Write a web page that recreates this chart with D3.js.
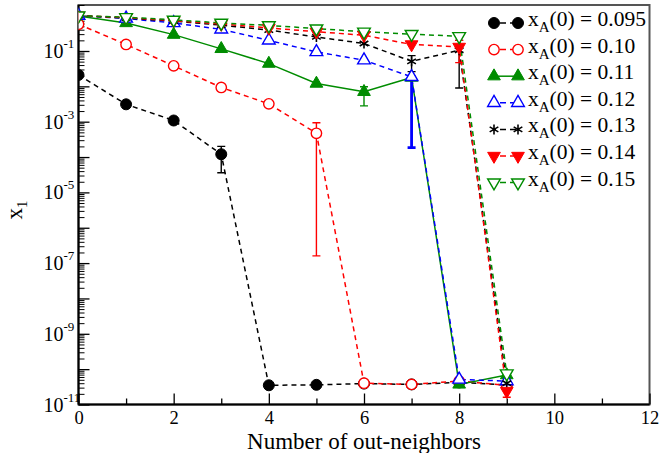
<!DOCTYPE html>
<html><head><meta charset="utf-8">
<script src="https://cdn.jsdelivr.net/npm/d3@7"></script>
<style>
body{margin:0;background:#fff;}
</style></head>
<body>
<svg id="chart" width="660" height="453"></svg>
<script>
// ---- data ----
const xValues = [0,1,2,3,4,5,6,7,8,9];
const seriesLabels = ["0.095","0.10","0.11","0.12","0.13","0.14","0.15"];
const s095 = [0.021, 0.0031, 0.00108, 1.2e-4, 3.5e-11, 3.6e-11, 3.9e-11, 3.7e-11, 4.2e-11, 3.6e-11];
const s010 = [0.57, 0.153, 0.038, 0.0093, 0.0032, 4.7e-4, 4.0e-11, 3.7e-11, 4.6e-11, 3.5e-11];
const s011 = [0.97, 0.62, 0.29, 0.115, 0.044, 0.012, 0.007, 0.0178, 3.7e-11, 6.8e-11];
const s012 = [1.0, 0.83, 0.62, 0.41, 0.20, 0.094, 0.055, 0.0185, 5.1e-11, 4.6e-11];
const s013 = [1.0, 0.85, 0.70, 0.54, 0.39, 0.25, 0.163, 0.051, 0.105, 4.0e-11];
const s014 = [1.0, 0.88, 0.72, 0.58, 0.45, 0.35, 0.28, 0.153, 0.13, 2.4e-11];
const s015 = [1.0, 0.90, 0.76, 0.62, 0.53, 0.43, 0.35, 0.30, 0.26, 7.5e-11];
// error bars: [x, low, high]
const e095 = [[3, 3.6e-5, 2.0e-4]];
const e010 = [[5, 1.6e-7, 9.3e-4]];
const e011 = [[6, 0.0028, 0.0097]];
const e012 = [[7, 1.85e-4, 0.0185]];
const e013 = [[7, 0.026, 0.074],[8, 0.009, 0.2]];
const e014 = [[8, 0.047, 0.2],[9, 1.6e-11, 3.2e-11]];
const e015 = [];
const xTickLabels = ["0","2","4","6","8","10","12"];
const yLabelExponents = [-11,-9,-7,-5,-3,-1];

const FONT = "Liberation Serif";

const allSeries = [
  {v:s095, e:e095, color:"#000000", sym:d3.symbolCircle, fill:true, dash:"5,4", size:95},
  {v:s010, e:e010, color:"#ff0000", sym:d3.symbolCircle, fill:false, dash:"5,4", size:85},
  {v:s011, e:e011, color:"#008c00", sym:d3.symbolTriangle, fill:true, dash:null, size:70},
  {v:s012, e:e012, color:"#0000ff", sym:d3.symbolTriangle, fill:false, dash:"5,4", size:70, ew:2.8},
  {v:s013, e:e013, color:"#000000", sym:d3.symbolAsterisk, fill:false, dash:"5,4", size:70},
  {v:s014, e:e014, color:"#ff0000", sym:d3.symbolTriangle, fill:true, dash:"5,4", size:70, rot:180},
  {v:s015, e:e015, color:"#008c00", sym:d3.symbolTriangle, fill:false, dash:"5,4", size:70, rot:180},
];

// ---- layout ----
const svg = d3.select("#chart").attr("font-family",FONT);
const L = 78.5, R = 649.5, T = 5, B = 404.5;
const x = d3.scaleLinear().domain([0,12]).range([L,R]);
const y = d3.scaleLog().domain([1e-11, 2]).range([B,T]);

// frame
svg.append("rect").attr("x",L).attr("y",T).attr("width",R-L).attr("height",B-T)
  .attr("fill","none").attr("stroke","#555").attr("stroke-width",2);
svg.append("line").attr("x1",L).attr("x2",R).attr("y1",B).attr("y2",B).attr("stroke","#000").attr("stroke-width",2);
svg.append("line").attr("x1",L).attr("x2",L).attr("y1",T).attr("y2",B).attr("stroke","#000").attr("stroke-width",2);

// x axis (ticks inward)
const xAxis = d3.axisTop(x).tickValues(d3.range(0,13,2)).tickSize(11).tickFormat((d,i)=>xTickLabels[i]);
const gx = svg.append("g").attr("transform",`translate(0,${B})`).call(xAxis).attr("font-family",FONT);
gx.select(".domain").remove();
gx.selectAll(".tick line").attr("stroke","#000").attr("stroke-width",1.3);
gx.selectAll(".tick text").attr("y",19.5).attr("dy","0").attr("font-size",18.5).attr("fill","#000")
  .attr("font-family",FONT);
const xMinor = d3.axisTop(x).tickValues(d3.range(1,12,2)).tickSize(6).tickFormat("");
const gxm = svg.append("g").attr("transform",`translate(0,${B})`).call(xMinor);
gxm.select(".domain").remove();
gxm.selectAll(".tick line").attr("stroke","#000").attr("stroke-width",1.3);

// y axis ticks
const majors = d3.range(-11,1).map(e=>Math.pow(10,e));
const minors = [];
for (let e=-11;e<=0;e++) for (let m=2;m<=9;m++){ const v=m*Math.pow(10,e); if(v<=2) minors.push(v);}
const yAxis = d3.axisRight(y).tickValues(majors).tickSize(11).tickFormat("");
const gy = svg.append("g").attr("transform",`translate(${L},0)`).call(yAxis);
gy.select(".domain").remove();
gy.selectAll(".tick line").attr("stroke","#000").attr("stroke-width",1.3);
const yMinor = d3.axisRight(y).tickValues(minors).tickSize(6).tickFormat("");
const gym = svg.append("g").attr("transform",`translate(${L},0)`).call(yMinor);
gym.select(".domain").remove();
gym.selectAll(".tick line").attr("stroke","#000").attr("stroke-width",1);

// y labels
yLabelExponents.forEach(ex=>{
  svg.append("text").attr("x",63.5).attr("y",y(Math.pow(10,ex))+7)
    .attr("text-anchor","end").attr("font-size",20).attr("fill","#000").attr("font-family",FONT).text("10");
  svg.append("text").attr("x",63.5).attr("y",y(Math.pow(10,ex))-3)
    .attr("font-size",13).attr("fill","#000").attr("font-family",FONT).text(String(ex));
});

// axis titles
svg.append("text").attr("x",364).attr("y",449).attr("text-anchor","middle")
  .attr("font-size",23).attr("fill","#000").attr("font-family",FONT).text("Number of out-neighbors");
const yt = svg.append("text").attr("transform","translate(22,210) rotate(-90)")
  .attr("text-anchor","middle").attr("font-size",23).attr("fill","#000").attr("font-family",FONT);
yt.append("tspan").text("x");
yt.append("tspan").attr("font-size",15).attr("dy",5).text("1");

// clip
svg.append("clipPath").attr("id","clip").append("rect").attr("x",L).attr("y",T).attr("width",R-L).attr("height",B-T);
const plot = svg.append("g").attr("clip-path","url(#clip)");

const line = d3.line().x((d,i)=>x(xValues[i])).y(d=>y(d));

// lines
allSeries.forEach(s=>{
  plot.append("path").attr("d",line(s.v)).attr("fill","none")
    .attr("stroke",s.color).attr("stroke-width",1.5)
    .attr("stroke-dasharray",s.dash);
});
// error bars
allSeries.forEach(s=>{
  s.e.forEach(([xi,lo,hi])=>{
    const g = plot.append("g").attr("stroke",s.color).attr("stroke-width",s.ew||1.4);
    g.append("line").attr("x1",x(xi)).attr("x2",x(xi)).attr("y1",y(lo)).attr("y2",y(hi));
    [lo,hi].forEach(v=>g.append("line").attr("x1",x(xi)-4).attr("x2",x(xi)+4).attr("y1",y(v)).attr("y2",y(v)));
  });
});
// markers
function marker(g,s,cx,cy){
  const p = g.append("path").attr("d",d3.symbol().type(s.sym).size(s.size)())
    .attr("transform",`translate(${cx},${cy})${s.rot?` rotate(${s.rot})`:""}`);
  if (s.sym===d3.symbolAsterisk) p.attr("fill","none").attr("stroke",s.color).attr("stroke-width",1.6);
  else if (s.fill) p.attr("fill",s.color).attr("stroke",s.color).attr("stroke-width",1);
  else p.attr("fill","#fff").attr("stroke",s.color).attr("stroke-width",1.4);
}
allSeries.forEach(s=>{
  s.v.forEach((v,i)=>marker(plot,s,x(xValues[i]),y(v)));
});

// legend
allSeries.forEach((s,i)=>{
  const cy = 23 + i*26.6;
  const g = svg.append("g");
  g.append("line").attr("x1",494).attr("x2",518).attr("y1",cy).attr("y2",cy)
    .attr("stroke",s.color).attr("stroke-width",1.5).attr("stroke-dasharray",s.dash?"6,4":null)
    .attr("stroke-dashoffset",s.dash?-6:null);
  marker(g,s,494,cy); marker(g,s,518,cy);
  const t = g.append("text").attr("x",528).attr("y",cy+3).attr("font-size",21.5).attr("fill","#000").attr("font-family",FONT);
  t.append("tspan").text("x");
  t.append("tspan").attr("font-size",15).attr("dy",6).text("A");
  t.append("tspan").attr("dy",-6).text("(0) = "+seriesLabels[i]);
});
</script>
</body></html>
